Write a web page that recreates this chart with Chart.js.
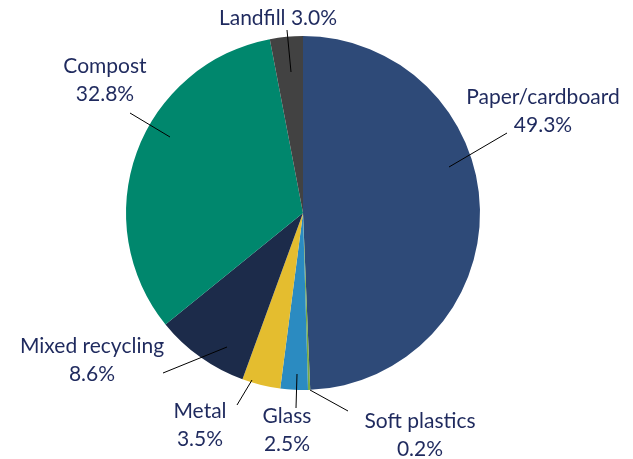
<!DOCTYPE html>
<html>
<head>
<meta charset="utf-8">
<script src="https://cdn.jsdelivr.net/npm/chart.js@4.4.1/dist/chart.umd.min.js"></script>
<style>
  html, body { margin: 0; padding: 0; background: #fff; }
  canvas { display: block; }
</style>
</head>
<body>
<canvas id="wasteChart" width="633" height="459"></canvas>
<script>
// Waste streams, clockwise from 12 o'clock
const categories = ["Paper/cardboard", "Soft plastics", "Glass", "Metal", "Mixed recycling", "Compost", "Landfill"];
const shares = [49.3, 0.2, 2.5, 3.5, 8.6, 32.8, 3.0];
const sliceColors = ["#2e4a78", "#7aab45", "#2b8bc1", "#e4bd2f", "#1c2b4a", "#00876d", "#424242"];

// Label layout: text lines centre, leader line from (x1,y1) to (x2,y2)
const labelLayout = [
  { x: 543, y: 97,  one: false, line: [507, 133, 449, 167] },
  { x: 420, y: 421, one: false, line: [348, 411, 310, 390] },
  { x: 287, y: 416, one: false, line: [296, 408, 297, 374] },
  { x: 200, y: 411, one: false, line: [237, 405, 252, 380] },
  { x: 92,  y: 346, one: false, line: [163, 373, 227, 347] },
  { x: 105, y: 66,  one: false, line: [130, 113, 170, 137] },
  { x: 278, y: 18,  one: true,  line: [287, 30, 291, 72] }
];

const calloutLabels = {
  id: 'calloutLabels',
  afterDatasetsDraw(chart) {
    const ctx = chart.ctx;
    ctx.save();
    ctx.strokeStyle = '#000';
    ctx.lineWidth = 1;
    labelLayout.forEach((lab) => {
      const l = lab.line;
      ctx.beginPath();
      ctx.moveTo(l[0], l[1]);
      ctx.lineTo(l[2], l[3]);
      ctx.stroke();
    });
    ctx.fillStyle = '#1f2a5e';
    ctx.font = '21px Lato';
    ctx.textAlign = 'center';
    ctx.textBaseline = 'middle';
    labelLayout.forEach((lab, i) => {
      const pct = shares[i].toFixed(1) + '%';
      if (lab.one) {
        ctx.fillText(categories[i] + ' ' + pct, lab.x, lab.y);
      } else {
        ctx.fillText(categories[i], lab.x, lab.y);
        ctx.fillText(pct, lab.x, lab.y + 28);
      }
    });
    ctx.restore();
  }
};

const ctx = document.getElementById('wasteChart').getContext('2d');
new Chart(ctx, {
  type: 'pie',
  data: {
    labels: categories,
    datasets: [{
      data: shares,
      backgroundColor: sliceColors,
      borderWidth: 0
    }]
  },
  options: {
    responsive: false,
    animation: false,
    layout: { padding: { left: 126, right: 153, top: 36, bottom: 69 } },
    plugins: {
      legend: { display: false },
      tooltip: { enabled: false }
    }
  },
  plugins: [calloutLabels]
});
</script>
</body>
</html>
